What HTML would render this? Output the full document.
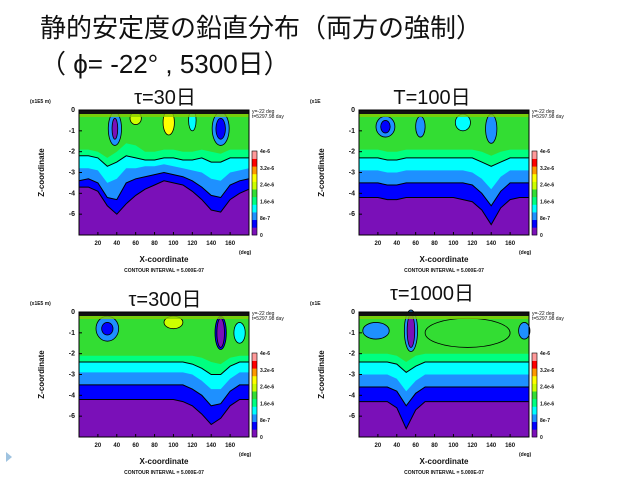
<!DOCTYPE html>
<html><head><meta charset="utf-8"><style>
html,body{margin:0;padding:0;background:#fff;width:640px;height:480px;overflow:hidden}
.t{position:absolute;font-family:"Liberation Sans","Noto Sans CJK JP",sans-serif;color:#111;white-space:nowrap}
</style></head><body>
<div class="t" style="left:40px;top:8px;font-size:26px">静的安定度の鉛直分布（両方の強制）</div>
<div class="t" style="left:40px;top:44px;font-size:26px">（ ϕ= -22° , 5300日）</div>
<svg id="s" width="640" height="480" style="position:absolute;left:0;top:0"></svg>
<script>
const xs=[0,10,20,30,40,50,60,70,80,90,100,110,120,130,140,150,160,170,180];
const titles=["τ=30日","T=100日","τ=300日","τ=1000日"];
const xTicks=[20,40,60,80,100,120,140,160];
const zTicks=[0,-1,-2,-3,-4,-5];
const zTickLabels=["0","-1","-2","-3","-4","-6"];
const cbLabels=["0","8e-7","1.6e-6","2.4e-6","3.2e-6","4e-6"];
const cbColors=["#7a10b8","#0000ff","#1e90ff","#00ffff","#00ff80","#33dd33","#ccff00","#ffff00","#ff9900","#ff0000","#ff9999"];
const p1Spring=[-1.9,-1.9,-2.0,-2.3,-2.0,-1.6,-1.7,-2.0,-2.0,-1.9,-1.9,-2.0,-2.0,-1.9,-2.0,-2.1,-1.9,-1.9,-1.9];
const p1Cyan=[-2.2,-2.2,-2.3,-2.7,-2.5,-2.2,-2.3,-2.4,-2.4,-2.3,-2.3,-2.4,-2.4,-2.3,-2.5,-2.5,-2.3,-2.3,-2.3];
const p1Dodger=[-2.8,-2.8,-2.9,-3.5,-3.3,-2.8,-2.8,-2.7,-2.7,-2.6,-2.7,-2.8,-2.9,-3.0,-3.3,-3.4,-3.0,-2.9,-2.8];
const p1Blue=[-3.4,-3.3,-3.5,-4.2,-4.3,-3.5,-3.3,-3.2,-3.1,-3.0,-3.1,-3.2,-3.4,-3.7,-4.1,-4.2,-3.6,-3.4,-3.3];
const p1Purple=[-3.7,-3.7,-3.9,-4.6,-5.0,-4.5,-4.1,-3.8,-3.6,-3.4,-3.5,-3.6,-3.9,-4.3,-4.8,-4.9,-4.3,-4.0,-3.8];
const p1Blobs=[[38,-0.9,7,0.8,2],[38,-0.9,3,0.5,0],[150,-0.9,9,0.8,2],[150,-0.9,5,0.5,1],[95,-0.6,6,0.6,7],[60,-0.4,6,0.3,6],[120,-0.5,4,0.5,3]];
const p2Spring=[-1.9,-1.9,-1.9,-2.0,-2.0,-1.9,-1.9,-1.9,-1.9,-1.9,-1.9,-1.9,-1.9,-2.0,-2.2,-2.0,-1.9,-1.9,-1.9];
const p2Cyan=[-2.3,-2.3,-2.3,-2.4,-2.4,-2.3,-2.3,-2.3,-2.3,-2.3,-2.3,-2.3,-2.3,-2.5,-2.7,-2.5,-2.3,-2.3,-2.3];
const p2Dodger=[-2.9,-2.9,-2.9,-3.0,-3.0,-2.9,-2.9,-2.9,-2.9,-2.9,-2.9,-2.9,-3.0,-3.3,-3.8,-3.2,-2.9,-2.9,-2.9];
const p2Blue=[-3.5,-3.5,-3.5,-3.6,-3.6,-3.5,-3.5,-3.5,-3.5,-3.5,-3.5,-3.5,-3.6,-4.0,-4.6,-3.9,-3.5,-3.5,-3.5];
const p2Purple=[-4.2,-4.2,-4.2,-4.3,-4.3,-4.2,-4.2,-4.2,-4.2,-4.2,-4.2,-4.3,-4.4,-4.8,-5.5,-4.7,-4.3,-4.2,-4.2];
const p2Blobs=[[28,-0.8,10,0.5,2],[28,-0.8,5,0.3,1],[65,-0.8,5,0.5,2],[140,-0.9,6,0.7,2],[110,-0.6,8,0.4,3]];
const p3Spring=[-2.1,-2.1,-2.1,-2.1,-2.1,-2.1,-2.1,-2.1,-2.1,-2.1,-2.1,-2.1,-2.1,-2.2,-2.4,-2.5,-2.2,-2.1,-2.1];
const p3Cyan=[-2.4,-2.4,-2.4,-2.4,-2.4,-2.4,-2.4,-2.4,-2.4,-2.4,-2.4,-2.4,-2.5,-2.7,-3.0,-3.0,-2.6,-2.4,-2.4];
const p3Dodger=[-2.9,-2.9,-2.9,-2.9,-2.9,-2.9,-2.9,-2.9,-2.9,-2.9,-2.9,-2.9,-3.0,-3.3,-3.7,-3.7,-3.2,-2.9,-2.9];
const p3Blue=[-3.5,-3.5,-3.5,-3.5,-3.5,-3.5,-3.5,-3.5,-3.5,-3.5,-3.5,-3.5,-3.7,-4.0,-4.5,-4.4,-3.8,-3.5,-3.5];
const p3Purple=[-4.2,-4.2,-4.2,-4.2,-4.2,-4.2,-4.2,-4.2,-4.2,-4.2,-4.2,-4.3,-4.5,-4.9,-5.4,-5.1,-4.5,-4.2,-4.2];
const p3Blobs=[[30,-0.8,12,0.6,2],[30,-0.8,6,0.3,1],[150,-1.0,6,0.8,1],[150,-1.0,4,0.7,0],[100,-0.5,10,0.3,6],[170,-1.0,6,0.5,3]];
const p4Spring=[-2.0,-2.0,-2.0,-2.0,-2.1,-2.4,-2.1,-2.0,-2.0,-2.0,-2.0,-2.0,-2.0,-2.0,-2.0,-2.0,-2.0,-2.0,-2.0];
const p4Cyan=[-2.4,-2.4,-2.4,-2.4,-2.5,-2.9,-2.6,-2.4,-2.4,-2.4,-2.4,-2.4,-2.4,-2.4,-2.4,-2.4,-2.4,-2.4,-2.4];
const p4Dodger=[-3.0,-3.0,-3.0,-3.0,-3.2,-3.8,-3.3,-3.0,-3.0,-3.0,-3.0,-3.0,-3.0,-3.0,-3.0,-3.0,-3.0,-3.0,-3.0];
const p4Blue=[-3.6,-3.6,-3.6,-3.6,-3.8,-4.5,-3.9,-3.6,-3.6,-3.6,-3.6,-3.6,-3.6,-3.6,-3.6,-3.6,-3.6,-3.6,-3.6];
const p4Purple=[-4.3,-4.3,-4.3,-4.3,-4.6,-5.6,-4.7,-4.3,-4.3,-4.3,-4.3,-4.3,-4.3,-4.3,-4.3,-4.3,-4.3,-4.3,-4.3];
const p4Blobs=[[115,-1.0,45,0.7,5],[18,-0.9,14,0.4,2],[55,-0.9,7,1.0,2],[55,-0.9,4,0.8,0],[175,-0.9,6,0.4,2]];
const panels=[
 {x:79,y:110,tx:165,ty:84,b:[p1Spring,p1Cyan,p1Dodger,p1Blue,p1Purple],bl:p1Blobs,unit:"(x1E5 m)"},
 {x:359,y:110,tx:432,ty:84,b:[p2Spring,p2Cyan,p2Dodger,p2Blue,p2Purple],bl:p2Blobs,unit:"(x1E"},
 {x:79,y:312,tx:165,ty:286,b:[p3Spring,p3Cyan,p3Dodger,p3Blue,p3Purple],bl:p3Blobs,unit:"(x1E5 m)"},
 {x:359,y:312,tx:432,ty:280,b:[p4Spring,p4Cyan,p4Dodger,p4Blue,p4Purple],bl:p4Blobs,unit:"(x1E"}];
const W=170,H=125,ZMIN=-6;
const s=document.getElementById('s');const NS="http://www.w3.org/2000/svg";
function mk(t,a,p){const e=document.createElementNS(NS,t);for(const k in a)e.setAttribute(k,a[k]);(p||s).appendChild(e);return e;}
function tx(x,y,str,sz,anc,p,w){const e=mk('text',{x:x,y:y,'font-size':sz,'text-anchor':anc||'start','font-family':'Liberation Sans, Noto Sans CJK JP, sans-serif','font-weight':w||'normal',fill:'#111'},p);e.textContent=str;return e;}
const bandColors=["#00ff80","#00ffff","#1e90ff","#0000ff","#7a10b8"];
panels.forEach((P,i)=>{
 const g=mk('g',{});
 
 
 const sx=v=>P.x+v/180*W, sz=v=>P.y+(-v)/(-ZMIN)*H;
 const bg=mk('rect',{x:P.x,y:P.y,width:W,height:H,fill:'#33dd33'},g);
 
 
 P.b.forEach((arr,k)=>{
  let d='M'+sx(0)+','+(P.y+H);
  arr.forEach((v,j)=>{d+=' L'+sx(xs[j]).toFixed(1)+','+sz(v).toFixed(1);});
  d+=' L'+sx(180)+','+(P.y+H)+'Z';
  const p=mk('path',{d:d,fill:bandColors[k]},g);
  
  
 });
 P.bl.forEach(b=>{
  const e=mk('ellipse',{cx:sx(b[0]),cy:sz(b[1]),rx:b[2]/180*W,ry:b[3]/6*H,fill:cbColors[b[4]],stroke:'#000','stroke-width':0.8},g);
  
  
 });
 [1,3,4].forEach(k=>{
  let d='';P.b[k].forEach((v,j)=>{d+=(j?' L':'M')+sx(xs[j]).toFixed(1)+','+sz(v).toFixed(1);});
  const l=mk('path',{d:d,fill:'none',stroke:'#000','stroke-width':1},g);
  
  
 });
 mk('rect',{x:P.x,y:P.y,width:W,height:4,fill:'#111'},g);
 mk('rect',{x:P.x,y:P.y+4,width:W,height:3,fill:'#88cc00',opacity:0.8},g);
 mk('rect',{x:P.x,y:P.y,width:W,height:H,fill:'none',stroke:'#000','stroke-width':1},g);
 xTicks.forEach(v=>{mk('line',{x1:sx(v),x2:sx(v),y1:P.y+H,y2:P.y+H-3,stroke:'#000'},g);tx(sx(v),P.y+H+10,String(v),6,'middle',g,'bold');});
 zTicks.forEach((v,j)=>{mk('line',{x1:P.x,x2:P.x+3,y1:sz(v),y2:sz(v),stroke:'#000'},g);tx(P.x-4,sz(v)+2,zTickLabels[j],7,'end',g,'bold');});
 tx(P.x-49,P.y-7,P.unit,5,'start',g,'bold');
 tx(P.x+W-10,P.y+H+19,"(deg)",5,'start',g,'bold');
 tx(P.x+W/2,P.y+H+27,"X-coordinate",8,'middle',g,'bold');
 tx(P.x+W/2,P.y+H+37,"CONTOUR INTERVAL = 5.000E-07",5,'middle',g,'bold');
 const zt=tx(0,0,"Z-coordinate",8,'middle',g,'bold');zt.setAttribute('transform','translate('+(P.x-35)+','+(P.y+H/2)+') rotate(-90)');
 tx(P.x+W+3,P.y+3,"y=-22 deg",5,'start',g);tx(P.x+W+3,P.y+8,"t=5297.98 day",5,'start',g);
 const t=tx(P.tx,P.ty+20,titles[i],20,'middle',g);
 
 const cx=P.x+W+3,cy0=P.y+41,ch=84;
 cbColors.forEach((c,j)=>{const r=mk('rect',{x:cx,y:cy0+ch-(j+1)*ch/cbColors.length,width:5,height:ch/cbColors.length+0.3,fill:c},g);
  
  });
 mk('rect',{x:cx,y:cy0,width:5,height:ch,fill:'none',stroke:'#000','stroke-width':0.6},g);
 cbLabels.forEach((lb,j)=>{tx(cx+8,cy0+ch-j*ch/5+2,lb,5,'start',g,'bold');});
});
const tri=mk('path',{d:'M6,452 L12,457 L6,462Z',fill:'#9fc3e0'});


</script>
</body></html>
